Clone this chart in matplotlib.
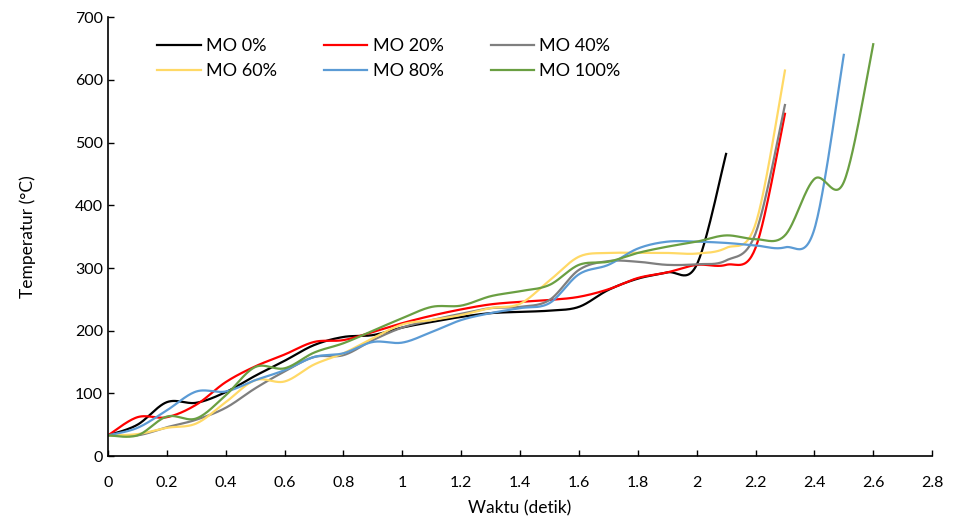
import numpy as np
import matplotlib.pyplot as plt

plt.rcParams['font.family'] = ['Lato', 'DejaVu Sans']

# waktu (detik), sampled every 0.1 s
waktu = [round(0.1 * i, 1) for i in range(27)]

mo_0 = [33, 50, 86, 85, 102, 128, 152, 177, 190, 193, 205, 214, 222, 228, 230, 232,
        238, 265, 283, 293, 305, 482]
mo_20 = [33, 62, 62, 82, 118, 143, 162, 182, 185, 198, 212, 224, 234, 242, 246, 249,
         254, 266, 284, 293, 305, 305, 332, 546]
mo_40 = [33, 33, 46, 58, 77, 108, 135, 158, 161, 185, 205, 217, 227, 236, 238, 249,
         297, 311, 310, 305, 306, 312, 355, 560]
mo_60 = [33, 35, 45, 52, 86, 121, 119, 146, 164, 188, 210, 217, 225, 236, 243, 280,
         318, 324, 324, 324, 323, 332, 370, 615]
mo_80 = [33, 45, 73, 103, 103, 121, 137, 158, 164, 182, 181, 198, 217, 228, 236, 244,
         290, 305, 331, 342, 342, 340, 336, 333, 362, 640]
mo_100 = [33, 33, 63, 60, 97, 142, 140, 165, 180, 200, 220, 238, 240, 255, 263, 273,
          305, 310, 324, 334, 342, 352, 346, 352, 442, 437, 657]

labels = ['MO 0%', 'MO 20%', 'MO 40%', 'MO 60%', 'MO 80%', 'MO 100%']
colors = ['#000000', '#FF0000', '#7F7F7F', '#FFD966', '#5B9BD5', '#6A9F42']


# smooth line like Excel (cubic bezier, control points from neighbours)
def smooth(x, y, n=30):
    x = np.asarray(x, float)
    y = np.asarray(y, float)
    xs, ys = [], []
    for i in range(len(x) - 1):
        i0 = max(i - 1, 0)
        i3 = min(i + 2, len(x) - 1)
        c1x = x[i] + (x[i + 1] - x[i0]) / 6
        c1y = y[i] + (y[i + 1] - y[i0]) / 6
        c2x = x[i + 1] - (x[i3] - x[i]) / 6
        c2y = y[i + 1] - (y[i3] - y[i]) / 6
        t = np.linspace(0, 1, n)
        b0 = (1 - t) ** 3
        b1 = 3 * (1 - t) ** 2 * t
        b2 = 3 * (1 - t) * t ** 2
        b3 = t ** 3
        xs.append(b0 * x[i] + b1 * c1x + b2 * c2x + b3 * x[i + 1])
        ys.append(b0 * y[i] + b1 * c1y + b2 * c2y + b3 * y[i + 1])
    return np.concatenate(xs), np.concatenate(ys)


fig = plt.figure(figsize=(9.56, 5.23), dpi=100)
ax = fig.add_axes([0.113, 0.128, 0.862, 0.839])

lines = []
for data, lab, col in zip([mo_0, mo_20, mo_40, mo_60, mo_80, mo_100], labels, colors):
    sx, sy = smooth(waktu[:len(data)], data)
    ln, = ax.plot(sx, sy, color=col, lw=1.6, label=lab)
    lines.append(ln)

ax.set_xlim(0, 2.8)
ax.set_ylim(0, 700)
ax.set_xticks(np.arange(0, 2.81, 0.2))
ax.set_xticklabels(['0', '0.2', '0.4', '0.6', '0.8', '1', '1.2', '1.4', '1.6', '1.8',
                    '2', '2.2', '2.4', '2.6', '2.8'])
ax.set_yticks(range(0, 701, 100))
ax.tick_params(direction='in', length=4, labelsize=11.5, width=1)
ax.tick_params(axis='x', pad=14)
ax.spines['top'].set_visible(False)
ax.spines['right'].set_visible(False)
ax.spines['left'].set_linewidth(1.2)
ax.spines['bottom'].set_linewidth(1.2)

ax.set_xlabel('Waktu (detik)', fontsize=12.5, labelpad=8)
ax.set_ylabel('Temperatur (°C)', fontsize=12.5, labelpad=28)

order = [0, 3, 1, 4, 2, 5]
ax.legend([lines[i] for i in order], [labels[i] for i in order], ncol=3,
          loc='upper left', bbox_to_anchor=(0.04, 0.99), frameon=False, fontsize=13,
          handlelength=2.4, columnspacing=2.6, labelspacing=0.5, handletextpad=0.3)

fig.savefig('out.png', dpi=100)
